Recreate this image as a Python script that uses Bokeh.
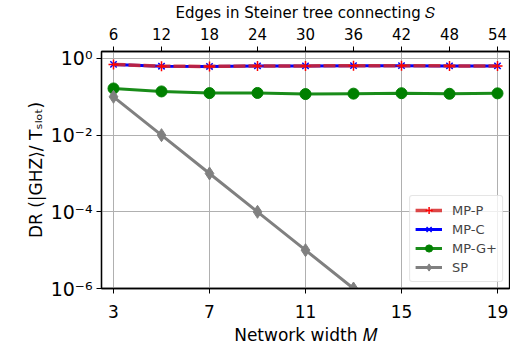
from bokeh.plotting import figure
from bokeh.models import (Range1d, LinearAxis, FixedTicker, CustomJSTickFormatter,
                          Legend, LegendItem)
from bokeh.embed import file_html
from bokeh.resources import INLINE

# ---- data ----
M = [3, 5, 7, 9, 11, 13, 15, 17, 19]
edges_ticks = [6, 12, 18, 24, 30, 36, 42, 48, 54]
mp_p = [0.70, 0.63, 0.62, 0.64, 0.64, 0.65, 0.65, 0.64, 0.64]
mp_c = [0.70, 0.63, 0.62, 0.64, 0.64, 0.65, 0.65, 0.64, 0.64]
mp_g = [0.165, 0.138, 0.125, 0.126, 0.118, 0.121, 0.124, 0.120, 0.123]
sp_M = [3, 5, 7, 9, 11, 13]
sp = [1e-1, 1e-2, 1e-3, 1e-4, 1e-5, 1e-6]
x_ticks = [3, 7, 11, 15, 19]
y_ticks = [1e-6, 1e-4, 1e-2, 1e0]

FONT = "DejaVu Sans"

p = figure(output_backend="svg", toolbar_location=None,
           y_axis_type="log", x_range=Range1d(2.5, 19.5), y_range=Range1d(1e-6, 1.52),
           frame_width=408, frame_height=237,
           min_border_left=101, min_border_top=50, min_border_right=1, min_border_bottom=10)
p.extra_x_ranges = {"top": Range1d(2.5 * 3 - 3, 19.5 * 3 - 3)}

p.outline_line_color = "black"
p.outline_line_width = 1.3
p.background_fill_color = "white"
p.border_fill_color = "white"

bottom = p.below[0]
left = p.left[0]

bottom.ticker = FixedTicker(ticks=x_ticks)
left.ticker = FixedTicker(ticks=y_ticks)
left.formatter = CustomJSTickFormatter(code="""
const sup = {'-':'\u207b','0':'\u2070','1':'\u00b9','2':'\u00b2','3':'\u00b3','4':'\u2074',
             '5':'\u2075','6':'\u2076','7':'\u2077','8':'\u2078','9':'\u2079'};
const e = Math.round(Math.log10(tick));
return '10' + String(e).split('').map(c => sup[c]).join('');
""")
bottom.axis_label = "Network width \U0001D440"
left.axis_label = "DR (|GHZ\u27e9/ T\u209b\u2097\u2092\u209c)"

top = LinearAxis(x_range_name="top", ticker=FixedTicker(ticks=edges_ticks),
                 axis_label="Edges in Steiner tree connecting \U0001D446")
p.add_layout(top, "above")

for ax in [bottom, left, top]:
    ax.axis_line_color = "black"
    ax.axis_line_width = 1.3
    ax.major_tick_line_color = "black"
    ax.major_tick_out = 5
    ax.major_tick_in = 0
    ax.minor_tick_line_color = None
    ax.major_label_text_font = FONT
    ax.major_label_text_color = "black"
    ax.axis_label_text_font = FONT
    ax.axis_label_text_font_style = "normal"
    ax.axis_label_text_color = "black"
    ax.major_label_standoff = 4
    ax.axis_label_standoff = 2

bottom.major_label_standoff = 11
bottom.axis_label_standoff = 4
top.major_label_standoff = 7
top.axis_label_standoff = 3

bottom.major_label_text_font_size = "17px"
top.major_label_text_font_size = "15px"
left.major_label_text_font_size = "19px"
bottom.axis_label_text_font_size = "17px"
top.axis_label_text_font_size = "15px"
left.axis_label_text_font_size = "17px"

p.xgrid.ticker = FixedTicker(ticks=x_ticks)
p.ygrid.ticker = FixedTicker(ticks=y_ticks)
p.grid.grid_line_color = "#b0b0b0"
p.grid.grid_line_width = 1

# series
r_cl = p.line(M, mp_c, line_color="blue", line_width=3)
r_cs = p.scatter(M, mp_c, marker="x", size=9, line_color="blue", line_width=1.5)
r_pl = p.line(M, mp_p, line_color="#d62728", line_alpha=0.85, line_width=3.5, line_dash="12 3")
r_ps = p.scatter(M, mp_p, marker="cross", size=10, line_color="red", line_width=1.5)
r_gl = p.line(M, mp_g, line_color="green", line_width=3, line_alpha=0.9)
r_gs = p.scatter(M, mp_g, marker="circle", size=11, fill_color="green", line_color="green")
r_sl = p.line(sp_M, sp, line_color="gray", line_width=3)
r_ss = p.scatter(sp_M, sp, marker="diamond", size=13, fill_color="gray", line_color="gray")

legend = Legend(items=[
    LegendItem(label="MP-P", renderers=[r_pl, r_ps]),
    LegendItem(label="MP-C", renderers=[r_cl, r_cs]),
    LegendItem(label="MP-G+", renderers=[r_gl, r_gs]),
    LegendItem(label="SP", renderers=[r_sl, r_ss]),
], location="bottom_right")
legend.label_text_font = FONT
legend.label_text_font_size = "13px"
legend.label_height = 18
legend.glyph_height = 18
legend.glyph_width = 27
legend.label_standoff = 10
legend.spacing = 1
legend.padding = 5
legend.margin = 6
legend.border_line_color = "#cccccc"
legend.border_line_width = 1
legend.border_radius = 3
legend.background_fill_alpha = 0.8
p.add_layout(legend)

open("out.html", "w").write(file_html(p, INLINE))
